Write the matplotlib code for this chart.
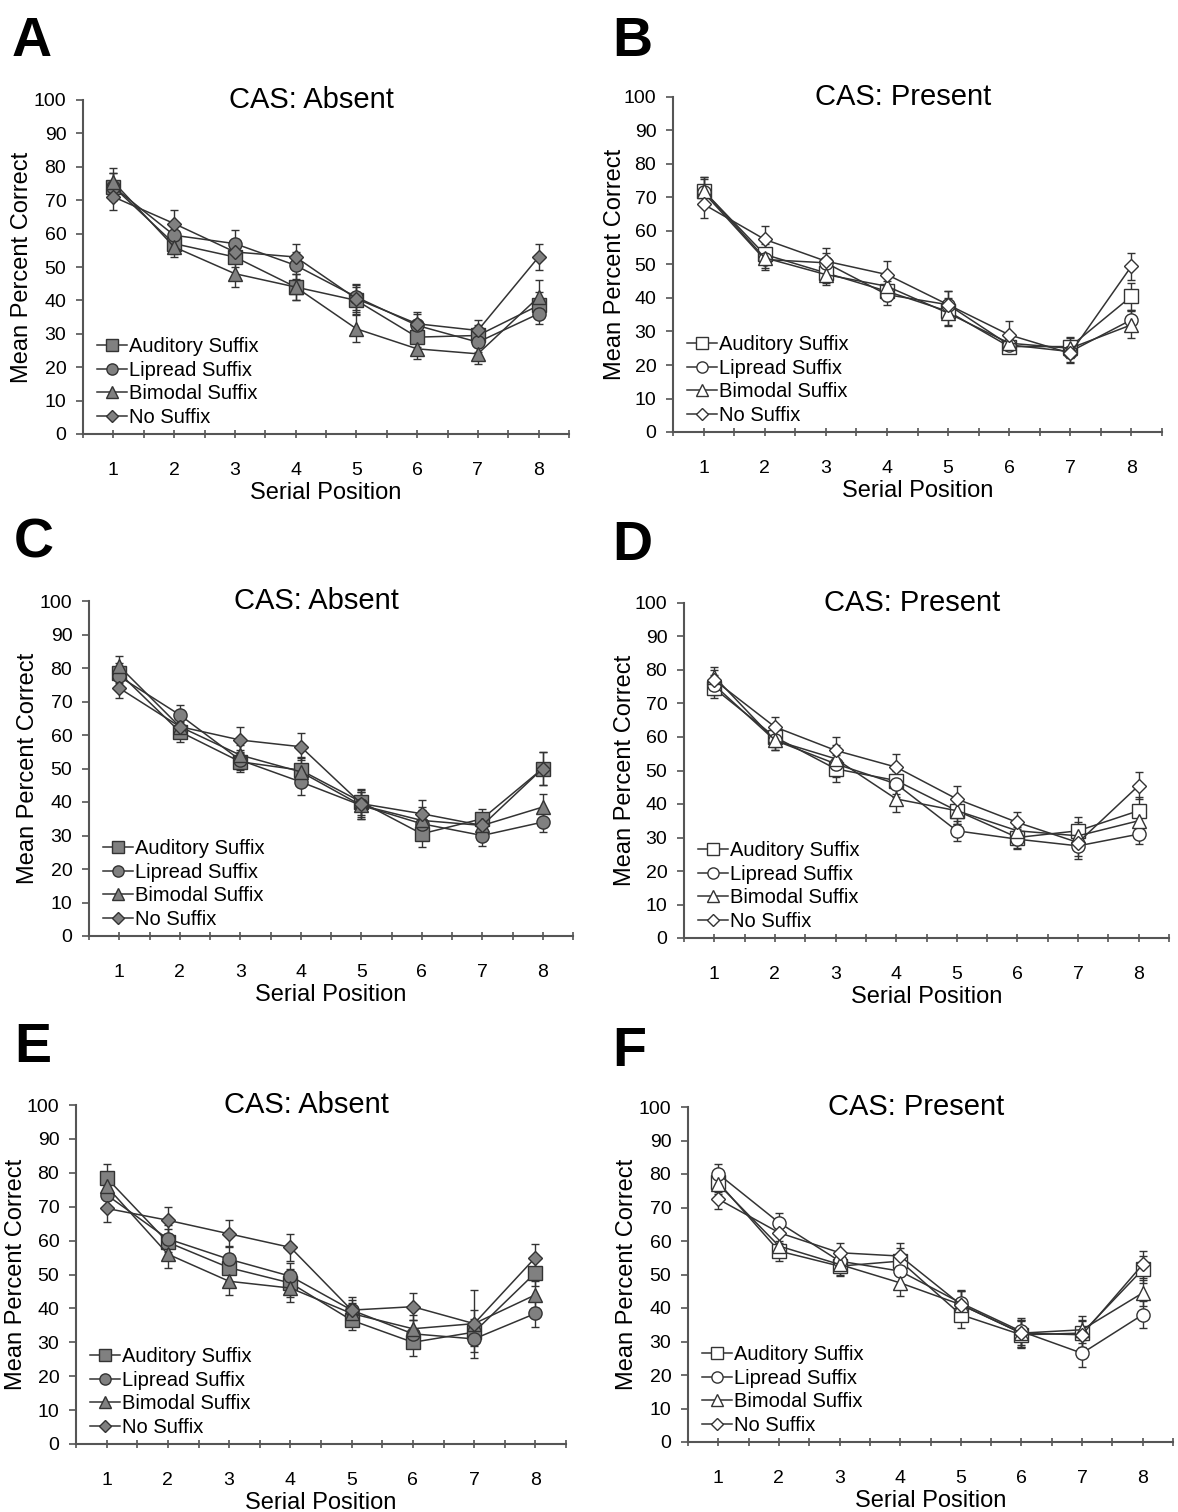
import matplotlib
matplotlib.use("Agg")
import matplotlib.pyplot as plt
from matplotlib.ticker import MultipleLocator

plt.rcParams["font.family"] = ["Liberation Sans", "DejaVu Sans"]

positions = [1, 2, 3, 4, 5, 6, 7, 8]
series_names = ["Auditory Suffix", "Lipread Suffix", "Bimodal Suffix", "No Suffix"]
panel_letters = ["A", "B", "C", "D", "E", "F"]
panel_titles = ["CAS: Absent", "CAS: Present"] * 3

# mean percent correct
a_aud = [74, 57, 53, 44, 40, 29, 29.5, 38.5]
a_lip = [74, 59.5, 57, 50.5, 41, 32.5, 27.5, 36]
a_bim = [75.5, 56, 48, 44, 31.5, 25.5, 24, 41]
a_none = [71, 63, 54.5, 53, 40.5, 33, 31, 53]

b_aud = [72, 53, 47.5, 42, 36, 25.5, 25.5, 40.5]
b_lip = [71.5, 51.5, 50.5, 41, 38, 26, 24, 33.5]
b_bim = [72, 52, 47, 43.5, 35.5, 26.5, 25, 32]
b_none = [68, 57.5, 51, 47, 38, 29, 23.5, 49.5]

c_aud = [78.5, 61, 52, 49.5, 40, 30.5, 35, 50]
c_lip = [77.5, 66, 52.5, 46, 39, 33.5, 30, 34]
c_bim = [80.5, 62.5, 54, 49, 39, 34.5, 33, 38.5]
c_none = [74, 62.5, 58.5, 56.5, 39.5, 36.5, 33, 50]

d_aud = [74.5, 60, 50.5, 47, 38, 30, 32, 38]
d_lip = [75.5, 59, 52, 46, 32, 29.5, 27.5, 31]
d_bim = [78, 59, 53.5, 41.5, 38, 32, 30.5, 35]
d_none = [77, 63, 56, 51, 41.5, 34.5, 28.5, 45.5]

e_aud = [78.5, 59.5, 52, 47.5, 36.5, 30, 33, 50.5]
e_lip = [73.5, 60.5, 54.5, 49.5, 39.5, 32.5, 31, 38.5]
e_bim = [76, 56, 48, 46, 38.5, 34, 35.5, 44]
e_none = [69.5, 66, 62, 58, 39.5, 40.5, 35.5, 55]

f_aud = [77.5, 57, 52.5, 54, 38, 32, 32.5, 51.5]
f_lip = [80, 65.5, 54, 51, 41.5, 33, 26.5, 38]
f_bim = [77, 58.5, 53, 47.5, 41, 32.5, 33.5, 44.5]
f_none = [72.5, 62.5, 56.5, 55.5, 41, 32.5, 32, 53]

# standard errors (approximate)
a_err = [[4, 3, 3, 4, 4, 3, 3, 4], [4, 3, 4, 4, 4, 4, 3, 3], [4, 3, 4, 4, 4, 3, 3, 5], [4, 4, 3, 4, 4, 3, 3, 4]]
b_err = [[4, 3, 3, 3, 4, 2, 3, 4], [4, 3, 3, 3, 4, 2, 3, 3], [4, 3, 3, 3, 4, 2, 3, 4], [4, 4, 4, 4, 4, 4, 3, 4]]
c_err = [[3, 3, 3, 4, 4, 4, 3, 5], [3, 3, 3, 4, 4, 4, 3, 3], [3, 3, 3, 4, 4, 4, 3, 4], [3, 3, 4, 4, 4, 4, 3, 5]]
d_err = [[3, 3, 4, 4, 4, 3, 4, 4], [3, 3, 4, 4, 3, 3, 4, 3], [3, 3, 4, 4, 4, 3, 4, 4], [3, 3, 4, 4, 4, 3, 4, 4]]
e_err = [[4, 4, 4, 4, 3, 4, 4, 4], [4, 4, 4, 4, 3, 4, 4, 4], [4, 4, 4, 4, 3, 4, 10, 4], [4, 4, 4, 4, 4, 4, 4, 4]]
f_err = [[3, 3, 3, 4, 4, 4, 4, 4], [3, 3, 3, 4, 4, 4, 4, 4], [3, 3, 3, 4, 4, 4, 4, 4], [3, 3, 3, 4, 4, 4, 4, 4]]

panel_data = [
    (a_aud, a_lip, a_bim, a_none, a_err),
    (b_aud, b_lip, b_bim, b_none, b_err),
    (c_aud, c_lip, c_bim, c_none, c_err),
    (d_aud, d_lip, d_bim, d_none, d_err),
    (e_aud, e_lip, e_bim, e_none, e_err),
    (f_aud, f_lip, f_bim, f_none, f_err),
]

markers = ["s", "o", "^", "D"]
marker_sizes = [9.5, 9.5, 9.5, 7.5]

W, H = 1178, 1512
# axes boxes in pixels: left spine, right end, top (100), bottom (0)
boxes = [
    (83, 569, 100, 434),
    (673, 1162, 97, 432),
    (89, 573, 601, 936),
    (684, 1169, 603, 938),
    (76, 566, 1105, 1444),
    (688, 1173, 1107, 1442),
]
# pixel x of the y-label's right edge
ylabel_x = [33, 626, 39, 636, 27, 638]
letter_pos = [(12, 56), (612, 56), (14, 558), (612, 560), (14, 1062), (612, 1066)]

fig = plt.figure(figsize=(W / 100, H / 100), dpi=100)

for i, (x0, x1, y0, y1) in enumerate(boxes):
    ax = fig.add_axes([x0 / W, 1 - y1 / H, (x1 - x0) / W, (y1 - y0) / H])
    filled = i % 2 == 0
    face = "#808080" if filled else "white"
    *means, errs = panel_data[i]
    for k in range(4):
        ax.errorbar(positions, means[k], yerr=errs[k], color="#333333", lw=1.1,
                    marker=markers[k], ms=marker_sizes[k], mfc=face, mec="#333333",
                    mew=1.0, ecolor="#333333", elinewidth=1.0, capsize=3,
                    label=series_names[k])

    ax.set_xlim(0.5, 8.5)
    ax.set_ylim(0, 100)
    ax.set_xticks(positions)
    ax.xaxis.set_minor_locator(MultipleLocator(0.5))
    ax.yaxis.set_major_locator(MultipleLocator(10))
    ax.tick_params(axis="x", which="both", direction="inout", length=6, width=1.2,
                   color="#555555", pad=17, labelsize=14)
    ax.tick_params(axis="y", direction="out", length=5, width=1.2,
                   color="#555555", pad=7, labelsize=14)
    for s in ["top", "right"]:
        ax.spines[s].set_visible(False)
    for s in ["left", "bottom"]:
        ax.spines[s].set_linewidth(1.5)
        ax.spines[s].set_color("#555555")
    ax.set_xlabel("Serial Position", fontsize=17, labelpad=2)
    ax.set_ylabel("Mean Percent Correct", fontsize=17)
    ax.yaxis.set_label_coords((ylabel_x[i] - x0) / (x1 - x0), 0.5)
    ax.text(0.47, 1.0, panel_titles[i], transform=ax.transAxes, ha="center",
            va="center", fontsize=21)

    handles, labels = ax.get_legend_handles_labels()
    handles = [h[0] for h in handles]
    ax.legend(handles, labels, loc="lower left", bbox_to_anchor=(0.02, 0.01),
              frameon=False, fontsize=14.5, handlelength=1.5, handletextpad=0.1,
              labelspacing=0.22, borderpad=0.2, borderaxespad=0.0, markerscale=0.85)

    lx, ly = letter_pos[i]
    fig.text(lx / W, 1 - ly / H, panel_letters[i], fontsize=40,
             fontweight="bold", ha="left", va="baseline")

fig.savefig("out.png", dpi=100)
